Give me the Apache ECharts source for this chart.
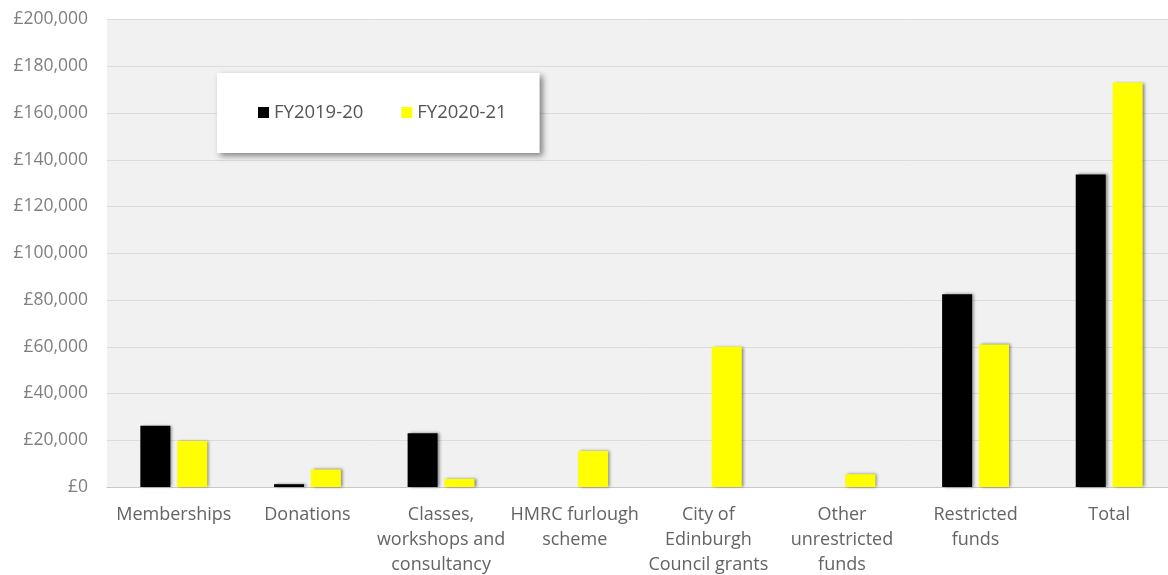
<!DOCTYPE html>
<html><head><meta charset="utf-8">
<script src="https://cdn.jsdelivr.net/npm/echarts@6/dist/echarts.min.js"></script>
<style>html,body{margin:0;padding:0;background:#fff;overflow:hidden}#c{width:1176px;height:575px}</style>
</head><body><div id="c"></div>
<script>
const categories = ["Memberships","Donations","Classes,\nworkshops and\nconsultancy","HMRC furlough\nscheme","City of\nEdinburgh\nCouncil grants","Other\nunrestricted\nfunds","Restricted\nfunds","Total"];
const fy2019 = [26200, 1200, 23000, 0, 0, 0, 82500, 133700];
const fy2020 = [19700, 7500, 3500, 15400, 60000, 5500, 61000, 173000];
const seriesNames = ["FY2019-20","FY2020-21"];
const yMin = 0, yMax = 200000, yStep = 20000;

const chart = echarts.init(document.getElementById('c'));
const barShadow = {shadowColor:'rgba(0,0,0,0.45)', shadowBlur:3, shadowOffsetX:2, shadowOffsetY:0};
chart.setOption({
  animation:false,
  textStyle:{fontFamily:'"Open Sans", sans-serif'},
  grid:{left:107, right:0, top:19.5, bottom:88, show:true, backgroundColor:'#f1f1f1', borderWidth:0,
        outerBoundsMode:'none', containLabel:false},
  legend:{
    left:217, top:73, orient:'horizontal',
    padding:[30,33,31,41],
    backgroundColor:'#ffffff',
    shadowColor:'rgba(0,0,0,0.45)', shadowBlur:6, shadowOffsetX:3, shadowOffsetY:3,
    itemWidth:11, itemHeight:11, itemGap:38, icon:'rect',
    textStyle:{fontSize:18.5, color:'#555555'},
    data:seriesNames
  },
  xAxis:{
    type:'category', data:categories,
    axisLine:{lineStyle:{color:'#c8c8c8'}},
    axisTick:{show:false},
    axisLabel:{interval:0, color:'#646464', fontSize:18, lineHeight:25, margin:15}
  },
  yAxis:{
    type:'value', min:yMin, max:yMax, interval:yStep,
    axisLine:{show:false}, axisTick:{show:false},
    splitLine:{lineStyle:{color:'#dcdcdc'}},
    axisLabel:{color:'#7f7f7f', fontSize:17.5, margin:19,
      formatter:v=>'£'+v.toLocaleString('en-GB')}
  },
  series:[
    {name:seriesNames[0], type:'bar', data:fy2019, barWidth:30, barGap:'23%',
     itemStyle:Object.assign({color:'#000000'}, barShadow)},
    {name:seriesNames[1], type:'bar', data:fy2020, barWidth:30, barGap:'23%',
     itemStyle:Object.assign({color:'#ffff00'}, barShadow)}
  ]
});
</script></body></html>
